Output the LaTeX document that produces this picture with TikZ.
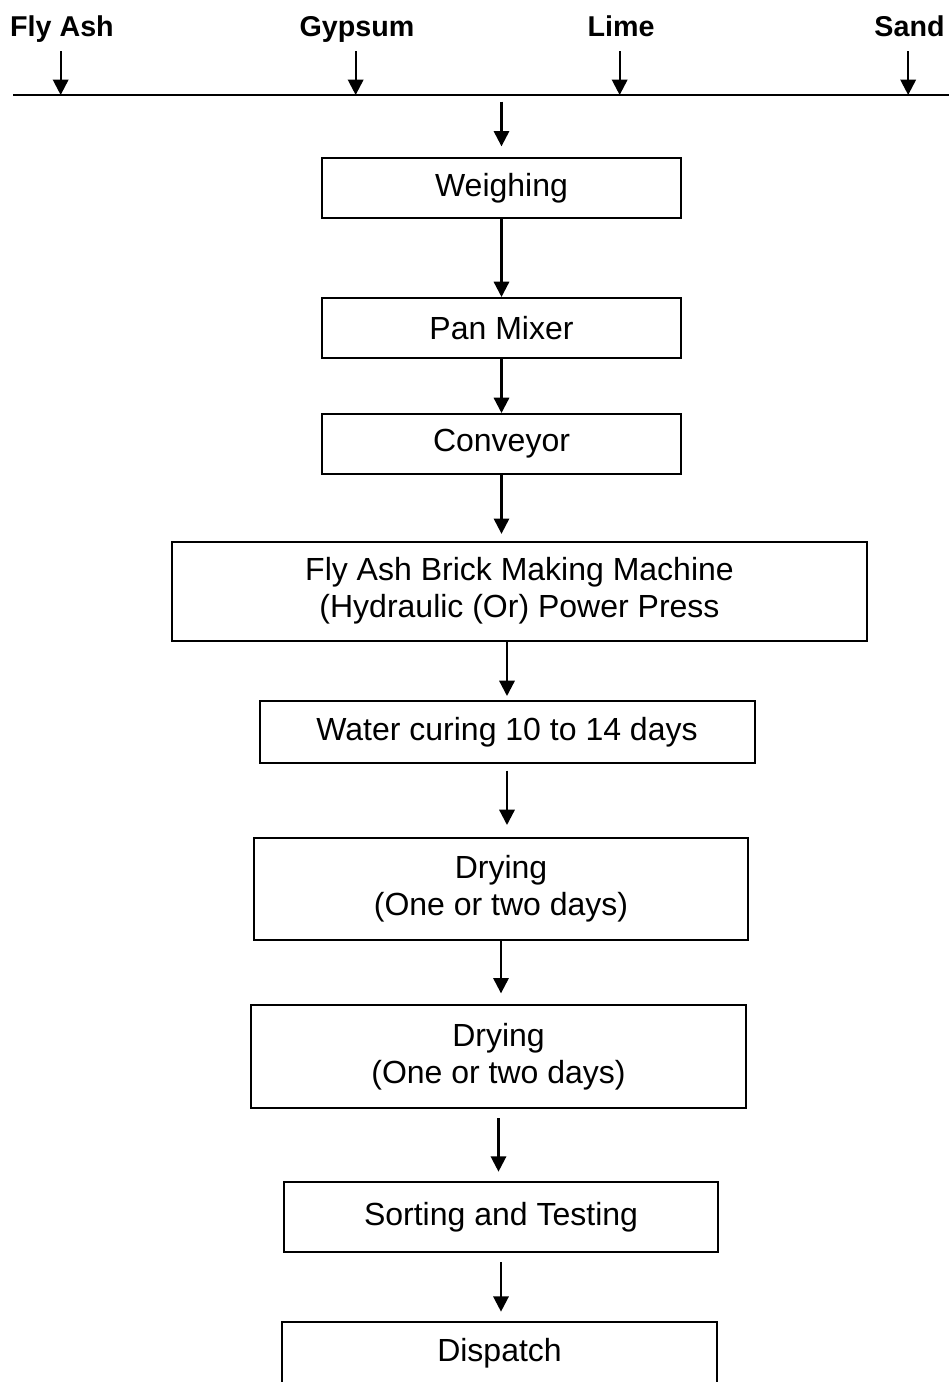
\documentclass[tikz,border=0pt]{standalone}
\usepackage{fontspec}
\setmainfont{Liberation Sans}
\usepackage{tikz}
\usetikzlibrary{arrows.meta,calc}

\begin{document}
\begin{tikzpicture}[
  x=0.75pt, y=-0.75pt,
  >={Triangle[length=11.5pt,width=11.5pt]},
  font=\fontsize{24}{28}\selectfont,
  box/.style 2 args={rectangle, draw=black, line width=1.5pt, align=center, inner sep=0pt,
    minimum width=#1*0.75pt, minimum height=#2*0.75pt},
  feed/.style={font=\fontsize{21.5}{24}\selectfont\bfseries, anchor=base, inner sep=0pt},
  flow/.style={->, line width=1.7pt},
]
\useasboundingbox (0,0) rectangle (949,1382);

% raw materials
\node[feed] (flyash) at (62,36) {Fly Ash};
\node[feed] (gypsum) at (357,36) {Gypsum};
\node[feed] (lime) at (621,36) {Lime};
\node[feed] (sand) at (909.5,36) {Sand};
\coordinate (busL) at (13,95);
\coordinate (busR) at (949,95);
\draw[line width=1.5pt] (busL) -- (busR);

% process steps
\node[box={359}{60}] (weigh) at (501.5,188) {Weighing};
\node[box={359}{60}] (pan) at (501.5,328) {Pan Mixer};
\node[box={359}{60}] (conv) at (501.5,444) {Conveyor};
\node[box={695}{99}] (brick) at (519.5,591) {Fly Ash Brick Making Machine\\(Hydraulic (Or) Power Press};
\node[box={495}{62}] (water) at (507,732) {Water curing 10 to 14 days};
\node[box={494}{102}] (dry1) at (501,889) {Drying\\(One or two days)};
\node[box={495}{103}] (dry2) at (498.5,1056.5) {Drying\\(One or two days)};
\node[box={434}{70}] (sort) at (501,1217) {Sorting and Testing};
\node[box={435}{62}] (disp) at (499.5,1353) {Dispatch};

\foreach \m in {flyash,gypsum,lime,sand}
  \draw[flow, shorten <=3pt] ([xshift=-1pt]\m.south |- 0,47) -- ([xshift=-1pt]\m.south |- busL);

\draw[flow, shorten <=5pt, shorten >=8pt] (weigh.north |- busL) -- (weigh.north);
\draw[flow] (weigh.south) -- (weigh.south |- pan.north);
\draw[flow] (pan.south) -- (pan.south |- conv.north);
\draw[flow, shorten >=5pt] (conv.south) -- (conv.south |- brick.north);
\draw[flow, shorten >=3pt] (brick.south -| water.north) -- (water.north);
\draw[flow, shorten <=5pt, shorten >=9pt] (water.south) -- (water.south |- dry1.north);
\draw[flow, shorten >=8pt] (dry1.south) -- (dry1.south |- dry2.north);
\draw[flow, shorten <=7pt, shorten >=7pt] (dry2.south) -- (dry2.south |- sort.north);
\draw[flow, shorten <=7pt, shorten >=7pt] (sort.south) -- (sort.south |- disp.north);
\end{tikzpicture}
\end{document}
